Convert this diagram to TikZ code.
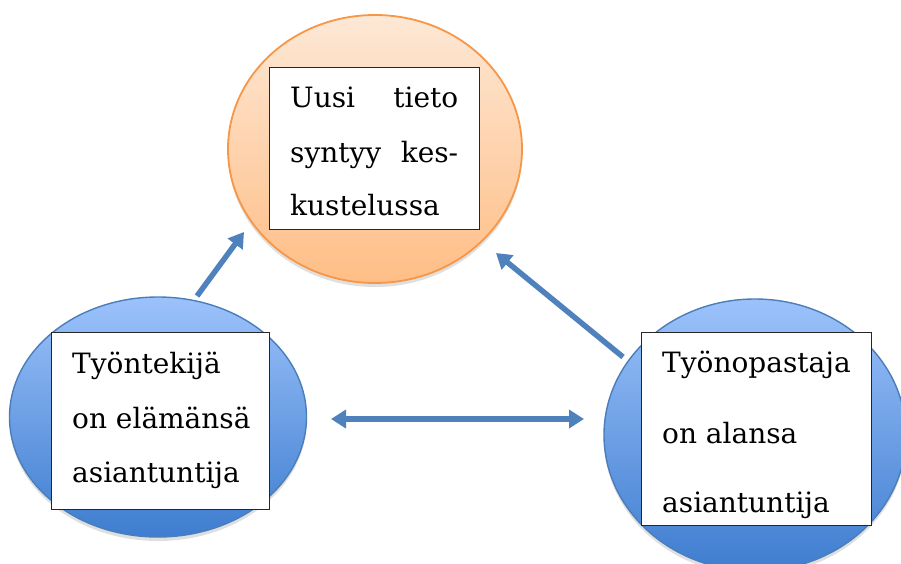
\documentclass[tikz,border=0pt]{standalone}
\usepackage{fontspec}
\setmainfont{DejaVu Serif}
\usetikzlibrary{shapes.geometric,arrows.meta,shadows}
\definecolor{orline}{HTML}{F79646}
\definecolor{ortop}{HTML}{FDE8D6}
\definecolor{orbot}{HTML}{FFBE86}
\definecolor{blline}{HTML}{4A7EBB}
\definecolor{bltop}{HTML}{9CC2FB}
\definecolor{blbot}{HTML}{3E7DCF}
\definecolor{arrcol}{HTML}{4F81BD}
\tikzset{
  orell/.style={ellipse, draw=orline, line width=1.8pt, top color=ortop, bottom color=orbot, inner sep=0pt,
    drop shadow={opacity=0.25, shadow xshift=0pt, shadow yshift=-4pt}},
  blell/.style={ellipse, draw=blline, line width=1.4pt, top color=bltop, bottom color=blbot, inner sep=0pt,
    drop shadow={opacity=0.25, shadow xshift=0pt, shadow yshift=-4pt}},
  textbox/.style={draw=black!85, line width=1pt, fill=white, inner sep=0pt, anchor=north west},
  conn/.style={draw=arrcol, line width=5.5pt, -{Triangle[length=15pt,width=18pt]}},
  dconn/.style={draw=arrcol, line width=5.5pt, {Triangle[length=15pt,width=18pt]}-{Triangle[length=15pt,width=18pt]}},
  lbl/.style={font=\fontsize{28}{54}\selectfont, anchor=base west, inner sep=0pt}
}
\begin{document}
\begin{tikzpicture}[x=1pt,y=-1pt]
\useasboundingbox (0,0) rectangle (901,563);
% ellipses
\node[orell, minimum width=294pt, minimum height=268pt] (top) at (375,149) {};
\node[blell, minimum width=297pt, minimum height=240pt] (left) at (158,417) {};
\node[blell, minimum width=302pt, minimum height=272pt] (right) at (755,435) {};
% boxes
\path (269,67) node[textbox, minimum width=210pt, minimum height=162pt] (tbox) {};
\path (51,332) node[textbox, minimum width=218pt, minimum height=177pt] (lbox) {};
\path (641,332) node[textbox, minimum width=230pt, minimum height=193pt] (rbox) {};
% texts
\node[lbl] (t1) at (290,107) {\hbox to 168pt{Uusi\hfill tieto}};
\node[lbl] (t2) at (290,162) {\hbox to 168pt{syntyy\hfill kes-}};
\node[lbl] (t3) at (290,215) {kustelussa};
\node[lbl] (l1) at (72,373) {Työntekijä};
\node[lbl] (l2) at (72,428) {on elämänsä};
\node[lbl] (l3) at (72,482) {asiantuntija};
\node[lbl] (r1) at (662,372) {Työnopastaja};
\node[lbl] (r2) at (662,443) {on alansa};
\node[lbl] (r3) at (662,512) {asiantuntija};
% connectors
\coordinate (a1s) at (197,296);
\coordinate (a1e) at (244,232);
\coordinate (a2s) at (623,357);
\coordinate (a2e) at (496,253);
\coordinate (a3s) at (331,419);
\coordinate (a3e) at (584,419);
\draw[conn] (a1s) -- (a1e);
\draw[conn] (a2s) -- (a2e);
\draw[dconn] (a3s) -- (a3e);
\end{tikzpicture}
\end{document}
